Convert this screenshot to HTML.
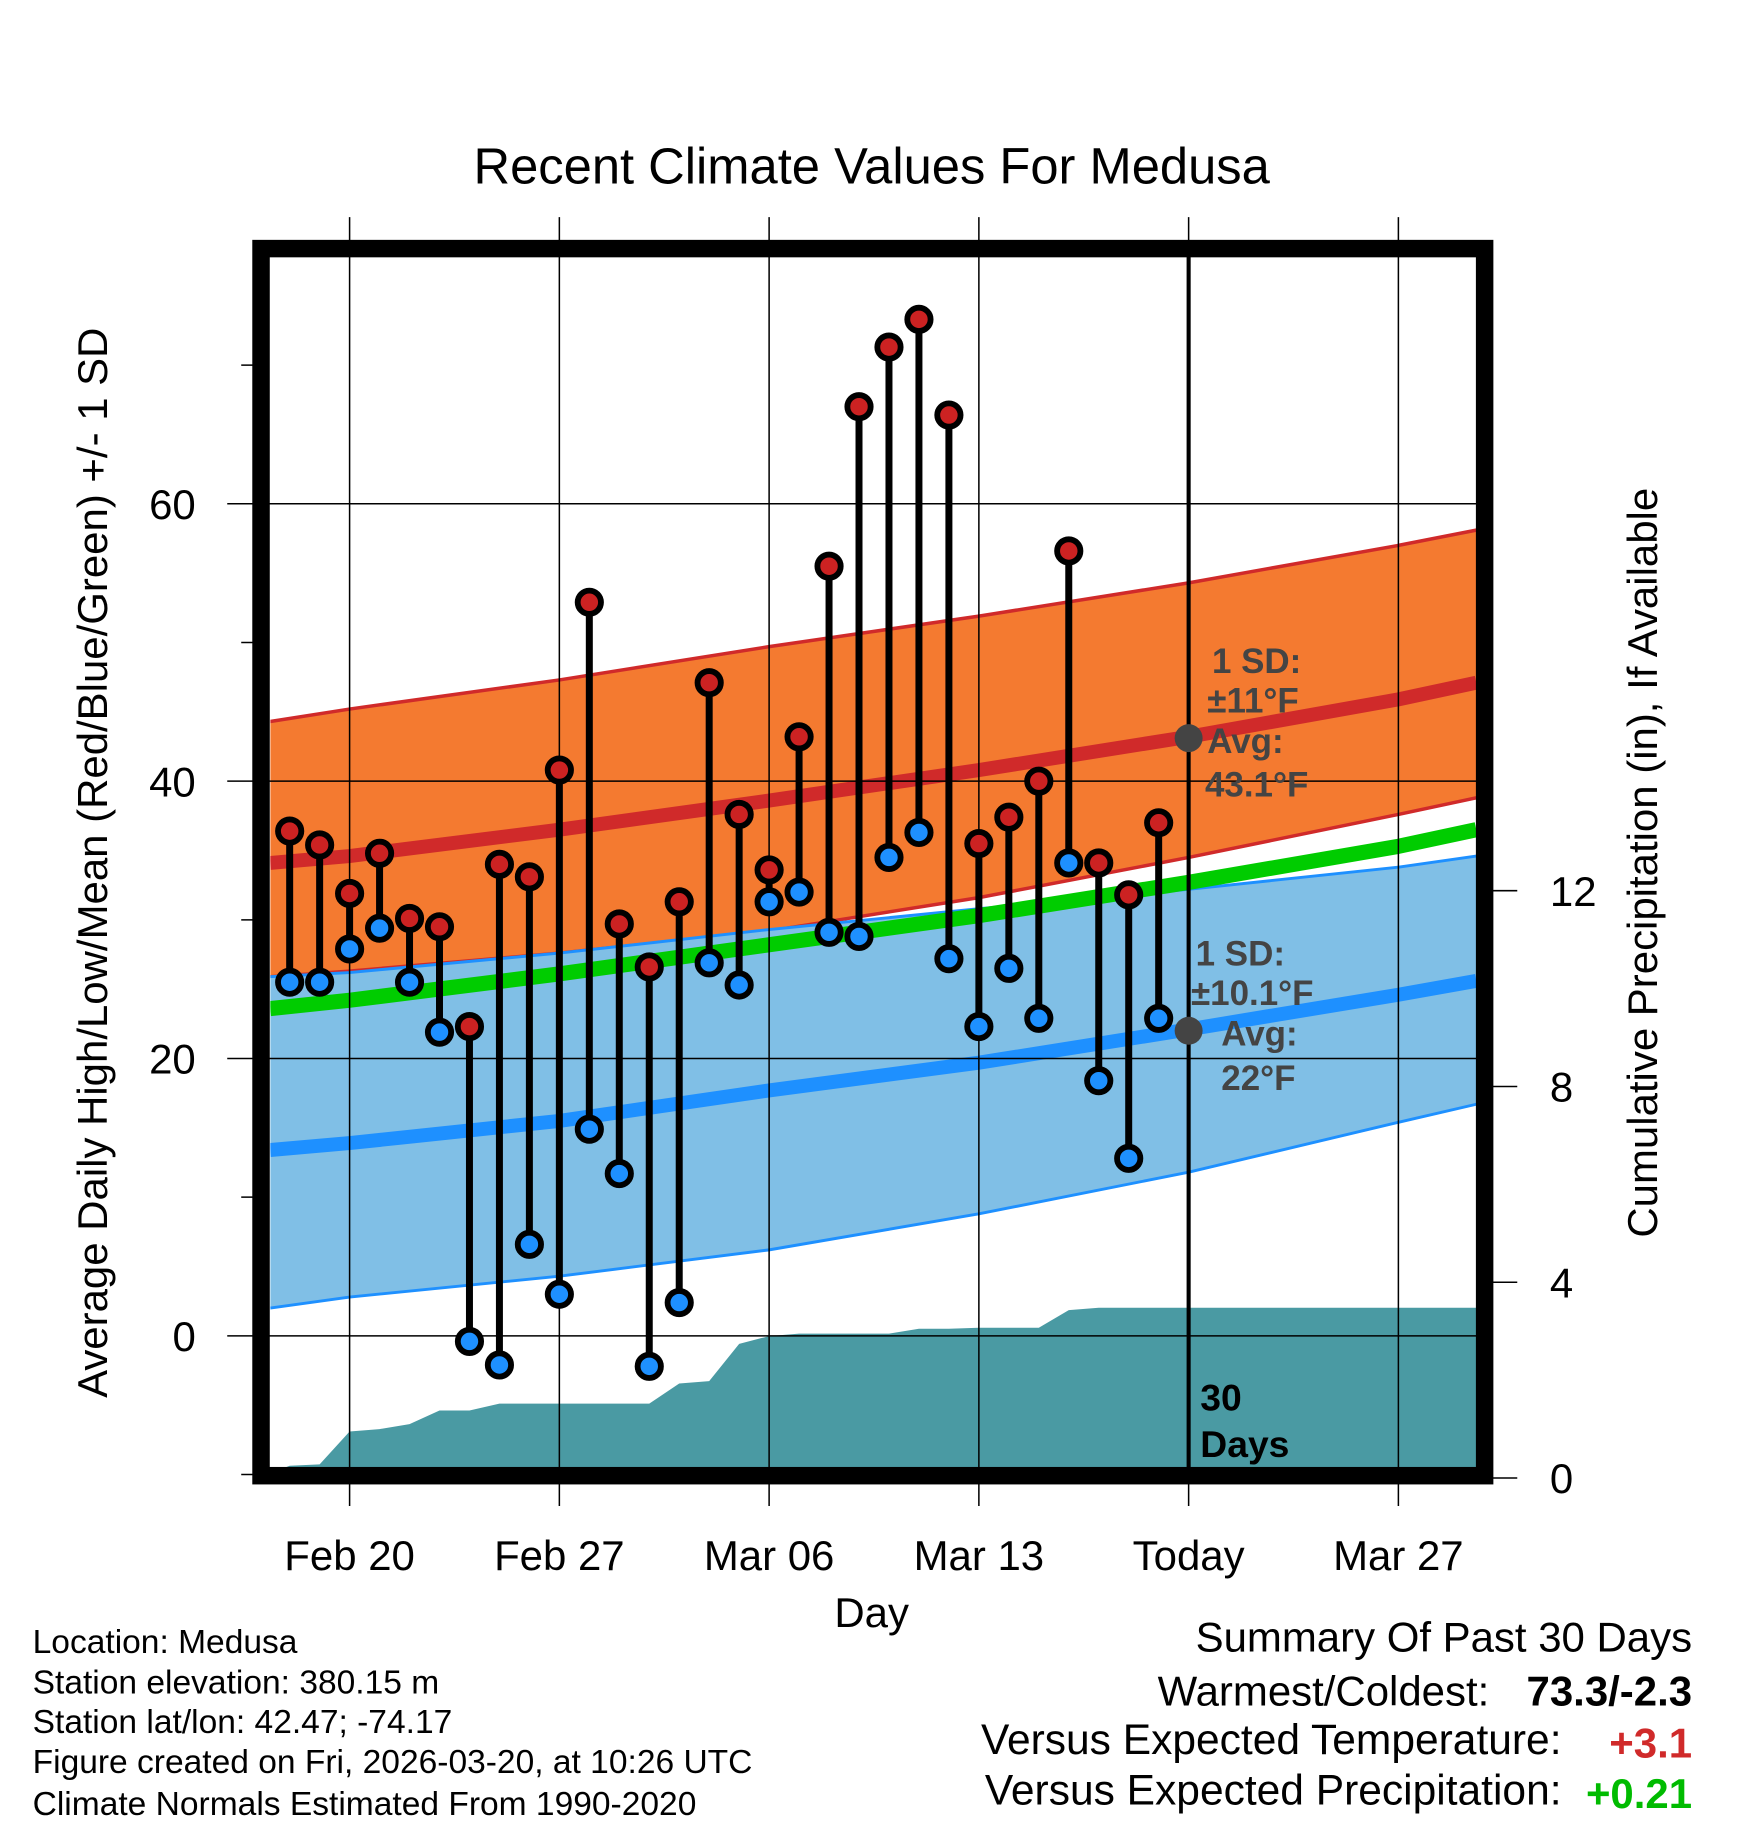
<!DOCTYPE html>
<html><head><meta charset="utf-8"><style>
html,body{margin:0;padding:0;background:#fff;}
svg{display:block;font-family:"Liberation Sans",sans-serif;}
</style></head><body>
<svg id="chart" width="1748" height="1828" viewBox="0 0 1500 1568" xmlns="http://www.w3.org/2000/svg">
<g id="layer"></g>
</svg>
<script>
const dayOffsets=[-2,-1,0,1,2,3,4,5,6,7,8,9,10,11,12,13,14,15,16,17,18,19,20,21,22,23,24,25,26,27];
const highs=[36.4,35.4,31.9,34.8,30.1,29.5,22.3,34.0,33.1,40.8,52.9,29.7,26.6,31.3,47.1,37.6,33.6,43.2,55.5,67.0,71.3,73.3,66.4,35.5,37.4,40.0,56.6,34.1,31.8,37.0];
const lows=[25.5,25.5,27.9,29.4,25.5,21.9,-0.4,-2.1,6.6,3.0,14.9,11.7,-2.2,2.4,26.9,25.3,31.3,32.0,29.1,28.8,34.5,36.3,27.2,22.3,26.5,22.9,34.1,18.4,12.8,22.9];
const precipCum=[0.25,0.28,0.95,1.0,1.1,1.38,1.38,1.52,1.52,1.52,1.52,1.52,1.52,1.93,1.98,2.74,2.9,2.95,2.95,2.95,2.95,3.05,3.05,3.07,3.07,3.07,3.43,3.48,3.48,3.48];
const normDays=[-2.65,0,7,14,21,28,35,37.6];
const normHigh=[34.1,34.6,36.5,38.6,40.8,43.2,45.9,47.1];
const normHighUp=[44.3,45.2,47.3,49.7,51.9,54.3,57.0,58.1];
const normHighLo=[25.9,26.3,27.6,29.2,31.6,34.5,37.6,38.8];
const normLow=[13.4,13.9,15.5,17.7,19.7,22.1,24.6,25.6];
const normLowUp=[25.9,26.2,27.6,29.3,30.8,32.2,33.8,34.6];
const normLowLo=[2.0,2.8,4.3,6.2,8.8,11.8,15.4,16.7];
const normMean=[23.6,24.2,26.1,28.2,30.3,32.7,35.3,36.5];
const xTickDays=[0,7,14,21,28,35];
const xTickLabels=["Feb 20","Feb 27","Mar 06","Mar 13","Today","Mar 27"];
const yTicks=[0,20,40,60];
const yMinor=[-10,10,30,50,70];
const pTicks=[0,4,8,12];

const X=d=>300+d*25.714;
const Y=v=>1146-v*11.9;
const P=p=>1268-p*42;
const NS="http://www.w3.org/2000/svg";
const L=document.getElementById('layer');
function mk(tag,attrs,parent){const e=document.createElementNS(NS,tag);for(const k in attrs)e.setAttribute(k,attrs[k]);(parent||L).appendChild(e);return e;}
function txt(s,attrs){const e=mk('text',attrs);e.textContent=s;return e;}
function band(up,lo){let pts=normDays.map((d,i)=>X(d)+','+Y(up[i]));for(let i=normDays.length-1;i>=0;i--)pts.push(X(normDays[i])+','+Y(lo[i]));return pts.join(' ');}
function line(arr){return normDays.map((d,i)=>X(d)+','+Y(arr[i])).join(' ');}

const defs=mk('defs',{});const cp=mk('clipPath',{id:'pc'},defs);mk('rect',{x:232,y:220,width:1036,height:1040},cp);
const g=mk('g',{'clip-path':'url(#pc)'});

let e=mk('polygon',{points:band(normHighUp,normHighLo),fill:'#f47a30',stroke:'none'},g);

mk('polyline',{points:line(normHighUp),fill:'none',stroke:'#d02a2a','stroke-width':3},g);
mk('polyline',{points:line(normHighLo),fill:'none',stroke:'#d02a2a','stroke-width':3},g);
e=mk('polygon',{points:band(normLowUp,normLowLo),fill:'#80bfe6',stroke:'none'},g);

mk('polyline',{points:line(normLowUp),fill:'none',stroke:'#1e90ff','stroke-width':2.5},g);
mk('polyline',{points:line(normLowLo),fill:'none',stroke:'#1e90ff','stroke-width':2.5},g);
let pp=[X(-2.65)+','+P(0),X(-2.65)+','+P(0.1)];
dayOffsets.forEach((d,i)=>pp.push(X(d)+','+P(precipCum[i])));
pp.push(X(37.6)+','+P(precipCum[precipCum.length-1]));pp.push(X(37.6)+','+P(0));
e=mk('polygon',{points:pp.join(' '),fill:'#4a9aa3'},g);

e=mk('polyline',{points:line(normMean),fill:'none',stroke:'#00cc00','stroke-width':13},g);

e=mk('polyline',{points:line(normHigh),fill:'none',stroke:'#d02a2a','stroke-width':12},g);

e=mk('polyline',{points:line(normLow),fill:'none',stroke:'#1e90ff','stroke-width':12},g);


xTickDays.forEach((d,i)=>{const gl=mk('line',{x1:X(d),x2:X(d),y1:186,y2:1292,stroke:'#000','stroke-width':1.3});

const t=txt(xTickLabels[i],{x:X(d),y:1347,'font-size':36,'text-anchor':'middle'});
});
e=mk('line',{x1:X(28),x2:X(28),y1:220,y2:1260,stroke:'#000','stroke-width':3.5});

yTicks.forEach(v=>{mk('line',{x1:195,x2:1268,y1:Y(v),y2:Y(v),stroke:'#000','stroke-width':1.3});
const t=txt(String(v),{x:168,y:Y(v)+13,'font-size':36,'text-anchor':'end'});
});
yMinor.forEach(v=>mk('line',{x1:207,x2:222,y1:Y(v),y2:Y(v),stroke:'#000','stroke-width':1.3}));
pTicks.forEach(p=>{mk('line',{x1:1276,x2:1302,y1:P(p),y2:P(p),stroke:'#000','stroke-width':1.3});
const t=txt(String(p),{x:1330,y:P(p)+13,'font-size':36});
});

dayOffsets.forEach((d,i)=>{
 const s=mk('line',{x1:X(d),x2:X(d),y1:Y(highs[i]),y2:Y(lows[i]),stroke:'#000','stroke-width':6});
 
});
dayOffsets.forEach((d,i)=>{
 const h=mk('circle',{cx:X(d),cy:Y(highs[i]),r:10,fill:'#cc2222',stroke:'#000','stroke-width':5});
 
 const l=mk('circle',{cx:X(d),cy:Y(lows[i]),r:10,fill:'#1e90ff',stroke:'#000','stroke-width':5});
 
});
mk('circle',{cx:X(28),cy:Y(43.1),r:12,fill:'#444'});
mk('circle',{cx:X(28),cy:Y(22),r:12,fill:'#444'});
const ann=[["1 SD:",1040,577],["±11°F",1036,611],["Avg:",1036,646],["43.1°F",1034,683],["1 SD:",1026,828],["±10.1°F",1022,862],["Avg:",1048,897],["22°F",1048,935]];
ann.forEach(a=>{const t=txt(a[0],{x:a[1],y:a[2],'font-size':30,'font-weight':'bold',fill:'#444'});});
txt("30",{x:1030,y:1210,'font-size':32,'font-weight':'bold'});
txt("Days",{x:1030,y:1250,'font-size':32,'font-weight':'bold'});
e=mk('rect',{x:224,y:213,width:1050,height:1053,fill:'none',stroke:'#000','stroke-width':15});

</script>
<script>
(function(){
const L=document.getElementById('layer');const NS="http://www.w3.org/2000/svg";
function t(s,a,name){const e=document.createElementNS(NS,'text');for(const k in a)e.setAttribute(k,a[k]);e.textContent=s;


L.appendChild(e);return e;}
t("Recent Climate Values For Medusa",{x:748,y:157,'font-size':43.5,'text-anchor':'middle'},'chart-title');
t("Average Daily High/Low/Mean (Red/Blue/Green) +/- 1 SD",{x:0,y:0,'font-size':36,'text-anchor':'middle',transform:'translate(92,740) rotate(-90)'},'y-axis-title');
t("Cumulative Precipitation (in), If Available",{x:0,y:0,'font-size':36,'text-anchor':'middle',transform:'translate(1422,740) rotate(-90)'},'precip-axis-title');
t("Day",{x:748,y:1396,'font-size':36,'text-anchor':'middle'},'x-axis-title');
const info=["Location: Medusa","Station elevation: 380.15 m","Station lat/lon: 42.47; -74.17","Figure created on Fri, 2026-03-20, at 10:26 UTC","Climate Normals Estimated From 1990-2020"];
[1418,1453,1487,1521,1557].forEach((y,i)=>t(info[i],{x:28,y:y,'font-size':28.8},'station-info'));
t("Summary Of Past 30 Days",{x:1452,y:1417,'font-size':36,'text-anchor':'end'},'summary-title');
t("Warmest/Coldest:",{x:1278,y:1463,'font-size':36,'text-anchor':'end'},'summary-label');
t("73.3/-2.3",{x:1452,y:1463,'font-size':36,'font-weight':'bold','text-anchor':'end'},'warmest-coldest-value');
t("Versus Expected Temperature:",{x:1340,y:1505,'font-size':36.5,'text-anchor':'end'},'summary-label');
t("+3.1",{x:1452,y:1508,'font-size':36,'font-weight':'bold','text-anchor':'end',fill:'#d02a2a'},'temp-departure-value');
t("Versus Expected Precipitation:",{x:1340,y:1548,'font-size':36.5,'text-anchor':'end'},'summary-label');
t("+0.21",{x:1452,y:1551,'font-size':36,'font-weight':'bold','text-anchor':'end',fill:'#00bb00'},'precip-departure-value');
})();
</script>
</body></html>
